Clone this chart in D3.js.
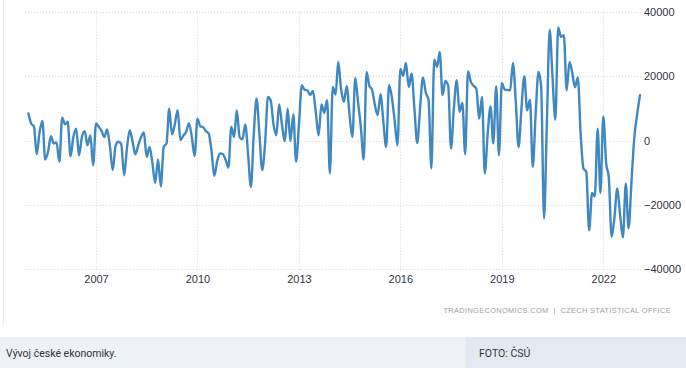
<!DOCTYPE html>
<html>
<head>
<meta charset="utf-8">
<script src="https://cdn.jsdelivr.net/npm/d3@7"></script>
<style>
  html, body { margin: 0; padding: 0; background: #fff; }
  svg { display: block; }
</style>
</head>
<body>
<svg id="chart" width="686" height="368"></svg>
<script>
// ---- data ----
const firstMonth = [2005, 0]; // January 2005, monthly observations
const values = [
  8400, 5200, 4400, -4300, 2500, 6100, -5900, -3500, 1300, -900, -600, -6600,
  7100, 5000, 5800, -4900, 1000, 3700, -4600, 1000, 2900, -1500, 1600, -7700,
  5300, 4200, 3000, 1100, 3400, -2000, -9200, -1500, -400, -1200, -10800, -2500,
  3200, -500, -4300, -1500, 1000, 2500, -5100, -2000, -7000, -13200, -5900, -14200,
  -2000, -900, 9900, 1900, 5000, 9400, 100, 1500, 2700, 5300, 1000, -4800,
  6800, 4400, 4200, 2900, 2200, -3000, -11000, -6500, -4000, -4200, -6000, -8400,
  4200, 1100, 9400, 1100, 300, 5000, -4000, -14400, 2000, 13000, 2000, -9200,
  -1000, 13500, 12500, 5000, 1600, 11200, 5000, -200, 9900, -200, 8200, -6600,
  5000, 17200, 15800, 15600, 14100, 15400, 9000, 1600, 11200, 8600, 12500, -10200,
  16600, 14300, 24400, 16000, 12000, 16900, 8000, 1100, 19400, 12000, 4000, -5900,
  21300, 16900, 15800, 11000, 7900, 14400, 6000, -2000, 17200, 13500, 6000, -1500,
  22200, 20100, 24100, 16600, 20800, 10000, -800, 10000, 19600, 15000, 12500, -8700,
  25100, 22900, 27500, 14100, 18500, 17000, -2500, 10000, 18700, 8900, 11700, -4300,
  21500, 18200, 17000, 16100, 6800, 13500, -10200, 2000, 10600, -900, 16900, -4600,
  17900, 15800, 15700, 15600, 24100, 12000, -2000, 10000, 20000, 9400, 12700, -8200,
  8000, 21300, 16600, -24200, 5000, 34300, 20000, 6500, 35100, 32200, 32700, 15600,
  24400, 20800, 16500, 19600, 2200, -8700, -9700, -27900, -16300, -17300, 3700, -16300,
  7500, -7100, -11300, -29900, -24000, -14900, -23000, -30100, -13400, -27300, -13000, 600,
  8000, 14100
];
const yTicks = [40000, 20000, 0, -20000, -40000];
const xTickYears = [2007, 2010, 2013, 2016, 2019, 2022];
const sourceText = "TRADINGECONOMICS.COM  |  CZECH STATISTICAL OFFICE";
const captionText = "Vývoj české ekonomiky.";
const creditText = "FOTO: ČSÚ";

// ---- build ----
const data = values.map((v, i) => ({ date: new Date(firstMonth[0], firstMonth[1] + i, 1), value: v }));

const svg = d3.select("#chart");
const plotLeft = 25, plotRight = 642, plotTop = 11.7, plotBottom = 269.3;

const x = d3.scaleTime()
  .domain([new Date(2007, 0, 1), new Date(2022, 0, 1)])
  .range([96, 603.3]);
const y = d3.scaleLinear().domain([-40000, 40000]).range([plotBottom, plotTop]);

// left border line
svg.append("line").attr("x1", 3.5).attr("x2", 3.5).attr("y1", 0).attr("y2", 325)
  .attr("stroke", "#ececec").attr("stroke-width", 1);

// horizontal grid
svg.append("g").selectAll("line").data(yTicks).join("line")
  .attr("x1", plotLeft).attr("x2", plotRight)
  .attr("y1", d => Math.round(y(d)) + 0.5).attr("y2", d => Math.round(y(d)) + 0.5)
  .attr("stroke", "#d9d9d9").attr("stroke-width", 1).attr("stroke-dasharray", "1,2");

// vertical grid
const xTickDates = xTickYears.map(yr => new Date(yr, 0, 1));
svg.append("g").selectAll("line").data(xTickDates).join("line")
  .attr("x1", d => Math.round(x(d)) + 0.5).attr("x2", d => Math.round(x(d)) + 0.5)
  .attr("y1", plotTop - 1).attr("y2", plotBottom + 1)
  .attr("stroke", "#d9d9d9").attr("stroke-width", 1).attr("stroke-dasharray", "1,2");

// y axis (right)
const yAxis = d3.axisRight(y).tickValues(yTicks).tickSize(0).tickPadding(2)
  .tickFormat(d3.format("d"));
const gy = svg.append("g").attr("transform", `translate(${plotRight},0)`).call(yAxis);
gy.select(".domain").remove();
gy.selectAll("text").attr("font-family", "'Liberation Sans', Arial, sans-serif")
  .attr("font-size", 11).attr("fill", "#333342");

// x axis
const xAxis = d3.axisBottom(x).tickValues(xTickDates).tickSize(0).tickPadding(0)
  .tickFormat(d3.timeFormat("%Y"));
const gx = svg.append("g").attr("transform", `translate(0,${plotBottom + 6})`).call(xAxis);
gx.select(".domain").remove();
gx.selectAll("text").attr("font-family", "'Liberation Sans', Arial, sans-serif")
  .attr("font-size", 11).attr("fill", "#333342");

// line
const line = d3.line().x(d => x(d.date)).y(d => y(d.value)).curve(d3.curveMonotoneX);
svg.append("path").datum(data)
  .attr("d", line).attr("fill", "none")
  .attr("stroke", "#3f88c2").attr("stroke-width", 2.4)
  .attr("stroke-linejoin", "round").attr("stroke-linecap", "round");

// source
svg.append("text").attr("x", 671).attr("y", 313).attr("text-anchor", "end")
  .attr("font-family", "'Liberation Sans', Arial, sans-serif").attr("font-size", 7.4)
  .attr("letter-spacing", 0.35)
  .attr("fill", "#a0a0a0").attr("xml:space", "preserve").text(sourceText);

// caption bar
svg.append("rect").attr("x", 0).attr("y", 337).attr("width", 686).attr("height", 31).attr("fill", "#eef2f7");
svg.append("rect").attr("x", 466).attr("y", 337).attr("width", 220).attr("height", 31).attr("fill", "#e3e9f1");
svg.append("text").attr("x", 6).attr("y", 357)
  .attr("font-family", "Roboto, 'Noto Sans', sans-serif").attr("font-size", 10.5)
  .attr("fill", "#333").text(captionText);
svg.append("text").attr("x", 479).attr("y", 357)
  .attr("font-family", "Roboto, 'Noto Sans', sans-serif").attr("font-size", 10.5)
  .attr("fill", "#333").text(creditText);
</script>
</body>
</html>
